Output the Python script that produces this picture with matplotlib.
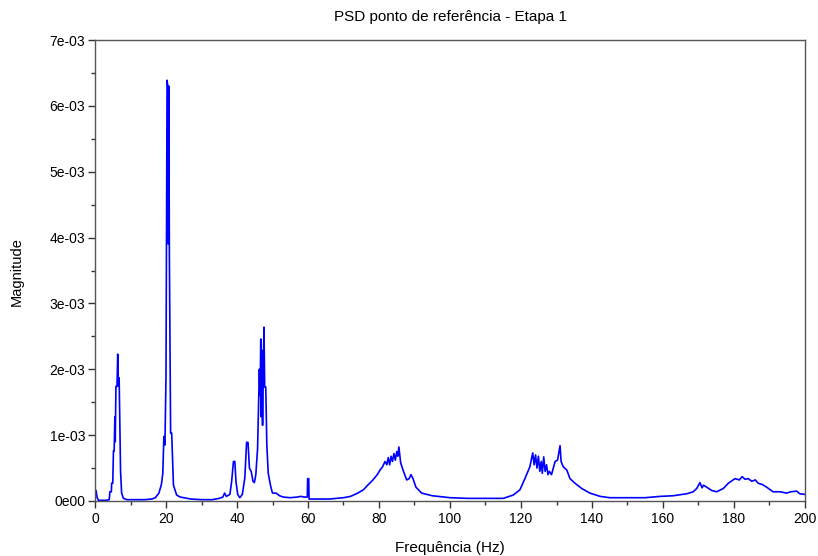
import matplotlib
matplotlib.use("Agg")
import matplotlib.pyplot as plt
from matplotlib.ticker import MultipleLocator
import numpy as np

# Power spectral density at the reference point (stage 1)
freq_hz = [
    0.0, 0.3, 0.6, 1.0, 2.0, 3.0, 4.0, 4.2, 4.6, 4.7, 5.0, 5.2, 5.4, 5.6, 5.7,
    5.8, 5.9, 6.2, 6.4, 6.6, 6.8, 7.0, 7.2, 7.5, 8.0, 9.0, 10.0, 12.0, 14.0,
    16.0, 17.0, 18.0, 18.7, 19.1, 19.4, 19.7, 20.0, 20.3, 20.5, 20.6, 20.7,
    20.8, 20.95, 21.3, 21.6, 22.1, 23.0, 24.0, 25.0, 27.0, 30.0, 33.0, 35.0,
    36.0, 36.5, 37.0, 38.0, 38.5, 39.0, 39.4, 39.7, 40.2, 40.8, 41.5, 42.2,
    42.7, 43.1, 43.5, 44.0, 44.5, 44.9, 45.3, 45.8, 46.1, 46.3, 46.5, 46.7,
    46.8, 47.0, 47.2, 47.4, 47.6, 47.8, 48.1, 48.4, 48.8, 49.5, 50.0, 51.0,
    52.0, 53.0, 55.0, 57.0, 58.0, 59.0, 59.8, 59.9, 60.2, 60.3, 63.0, 66.0,
    68.0, 70.0, 72.0, 74.0, 75.6, 77.0, 78.3, 79.5, 80.3, 81.0, 81.7, 82.2,
    82.6, 83.0, 83.4, 83.8, 84.2, 84.6, 85.0, 85.3, 85.6, 86.1, 86.9, 87.8,
    88.5, 89.0, 89.5, 90.4, 92.0, 95.0, 100.0, 105.0, 110.0, 115.0, 117.8,
    119.7, 121.1, 122.5, 123.3, 123.7, 124.1, 124.5, 124.9, 125.3, 125.7,
    126.0, 126.4, 126.8, 127.2, 127.6, 128.0, 128.6, 129.6, 130.3, 131.0,
    131.3, 131.9, 132.9, 133.8, 135.2, 137.1, 139.4, 142.3, 145.0, 150.0,
    155.0, 159.2, 162.9, 166.7, 168.5, 169.5, 170.4, 171.0, 171.4, 172.3,
    173.7, 175.1, 177.0, 178.4, 180.3, 181.5, 182.3, 183.1, 184.0, 185.0,
    186.0, 186.8, 188.0, 189.2, 191.0, 193.0, 194.8, 196.0, 197.7, 198.5,
    200.0,
]
# magnitude in units of 1e-3
magnitude_e3 = [
    0.15, 0.16, 0.05, 0.01, 0.01, 0.01, 0.02, 0.14, 0.14, 0.27, 0.27, 0.76,
    0.76, 1.28, 0.90, 1.28, 1.74, 1.74, 2.23, 1.75, 1.87, 1.20, 0.45, 0.12,
    0.04, 0.02, 0.02, 0.02, 0.02, 0.03, 0.05, 0.12, 0.25, 0.42, 0.98, 0.85,
    1.89, 6.39, 6.30, 6.30, 3.90, 6.30, 3.74, 1.03, 1.03, 0.24, 0.09, 0.06,
    0.05, 0.03, 0.02, 0.02, 0.04, 0.06, 0.12, 0.07, 0.10, 0.30, 0.60, 0.60,
    0.30, 0.10, 0.05, 0.10, 0.35, 0.89, 0.89, 0.50, 0.45, 0.30, 0.28, 0.40,
    0.80, 1.50, 2.00, 1.60, 2.46, 1.28, 2.29, 1.15, 2.00, 2.64, 1.73, 1.73,
    0.85, 0.42, 0.22, 0.12, 0.12, 0.08, 0.06, 0.05, 0.06, 0.07, 0.06, 0.06,
    0.34, 0.34, 0.03, 0.03, 0.03, 0.04, 0.05, 0.07, 0.12, 0.17, 0.25, 0.32,
    0.40, 0.47, 0.52, 0.60, 0.55, 0.66, 0.55, 0.68, 0.60, 0.72, 0.62, 0.75,
    0.68, 0.82, 0.58, 0.45, 0.32, 0.34, 0.40, 0.35, 0.21, 0.12, 0.08, 0.05,
    0.04, 0.04, 0.04, 0.09, 0.17, 0.34, 0.52, 0.73, 0.55, 0.70, 0.50, 0.68,
    0.45, 0.60, 0.42, 0.67, 0.45, 0.55, 0.40, 0.45, 0.40, 0.60, 0.62, 0.84,
    0.60, 0.52, 0.47, 0.34, 0.27, 0.19, 0.12, 0.07, 0.05, 0.05, 0.05, 0.07,
    0.08, 0.11, 0.14, 0.19, 0.28, 0.20, 0.24, 0.21, 0.16, 0.14, 0.19, 0.27,
    0.34, 0.32, 0.37, 0.33, 0.34, 0.30, 0.32, 0.27, 0.25, 0.21, 0.14, 0.14,
    0.12, 0.14, 0.15, 0.11, 0.10,
]

x_ticks = [0, 20, 40, 60, 80, 100, 120, 140, 160, 180, 200]
y_ticks = [0.0, 1e-3, 2e-3, 3e-3, 4e-3, 5e-3, 6e-3, 7e-3]
y_tick_labels = ["0e00", "1e-03", "2e-03", "3e-03", "4e-03", "5e-03", "6e-03", "7e-03"]

plt.rcParams["font.family"] = ["Liberation Sans", "DejaVu Sans"]

fig = plt.figure(figsize=(8.18, 5.56), dpi=100)
ax = fig.add_axes([95 / 818, 1 - 501 / 556, 710 / 818, 461 / 556])

mag = np.array(magnitude_e3) * 1e-3
ax.plot(freq_hz, mag, color="#0000ff", linewidth=1.2)

ax.set_xlim(0, 200)
ax.set_ylim(0, 7e-3)
ax.set_xticks(x_ticks)
ax.set_xticklabels([str(v) for v in x_ticks])
ax.set_yticks(y_ticks)
ax.set_yticklabels(y_tick_labels)
ax.xaxis.set_minor_locator(MultipleLocator(10))
ax.yaxis.set_minor_locator(MultipleLocator(0.5e-3))

ax.tick_params(which="major", direction="out", length=5, width=1, color="#333333",
               labelsize=10, pad=3)
ax.tick_params(axis="y", which="major", pad=2)
ax.tick_params(which="minor", direction="out", length=3, width=1, color="#333333")
for s in ax.spines.values():
    s.set_color("#555555")
    s.set_linewidth(1.0)

fig.text(0.5 * (95 + 805) / 818, 1 - 17 / 556, "PSD ponto de referência - Etapa 1",
         ha="center", va="center", fontsize=11)
fig.text(0.5 * (95 + 805) / 818, 1 - 548 / 556, "Frequência (Hz)",
         ha="center", va="center", fontsize=11)
fig.text(17 / 818, 1 - 272 / 556, "Magnitude", rotation=90,
         ha="center", va="center", fontsize=10.5)

fig.savefig("out.png", dpi=100)
